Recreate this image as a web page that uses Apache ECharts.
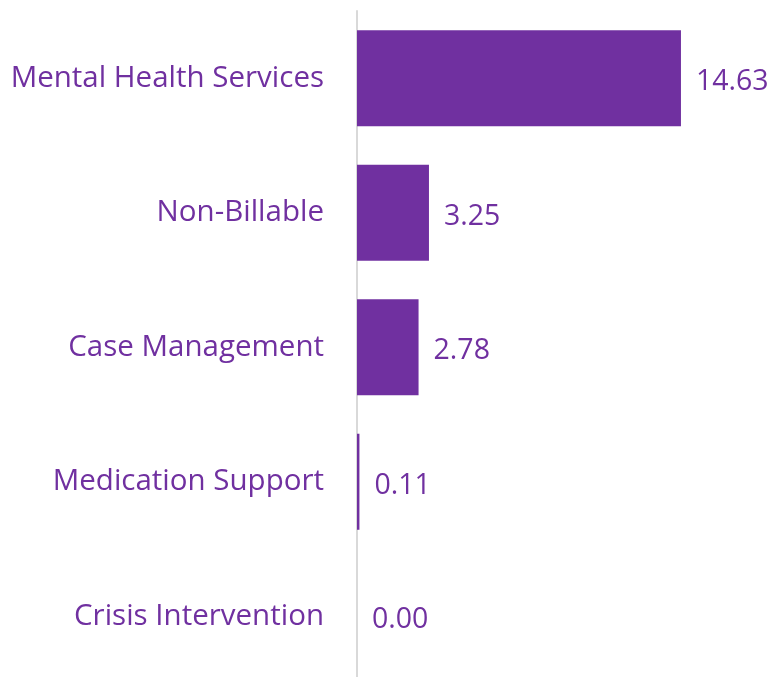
<!DOCTYPE html>
<html>
<head>
<meta charset="utf-8">
<script src="https://cdn.jsdelivr.net/npm/echarts@6/dist/echarts.min.js"></script>
<style>html,body{margin:0;padding:0;background:#fff;}#c{width:780px;height:677px;}</style>
</head>
<body>
<div id="c"></div>
<script>
const categories = ["Mental Health Services", "Non-Billable", "Case Management", "Medication Support", "Crisis Intervention"];
const values = [14.63, 3.25, 2.78, 0.11, 0.00];

const purple = '#7030A0';
const font = '"Segoe UI", "Open Sans", sans-serif';
const chart = echarts.init(document.getElementById('c'));
chart.setOption({
  animation: false,
  grid: { left: 357, width: 354.3, top: 11, height: 672.5, containLabel: false, outerBoundsMode: 'none' },
  xAxis: { type: 'value', min: 0, max: 16, show: false },
  yAxis: {
    type: 'category', inverse: true, data: categories,
    axisLine: { show: true, lineStyle: { color: '#d9d9d9', width: 2 } },
    axisTick: { show: false },
    axisLabel: { color: purple, fontSize: 29.5, fontFamily: font, margin: 33 }
  },
  series: [{
    type: 'bar', data: values, barCategoryGap: '28.6%',
    itemStyle: { color: purple },
    label: {
      show: true, position: 'right', distance: 15, offset: [0, 4], color: purple,
      fontSize: 28.5, fontFamily: font,
      formatter: p => p.value.toFixed(2)
    }
  }]
});
</script>
</body>
</html>
